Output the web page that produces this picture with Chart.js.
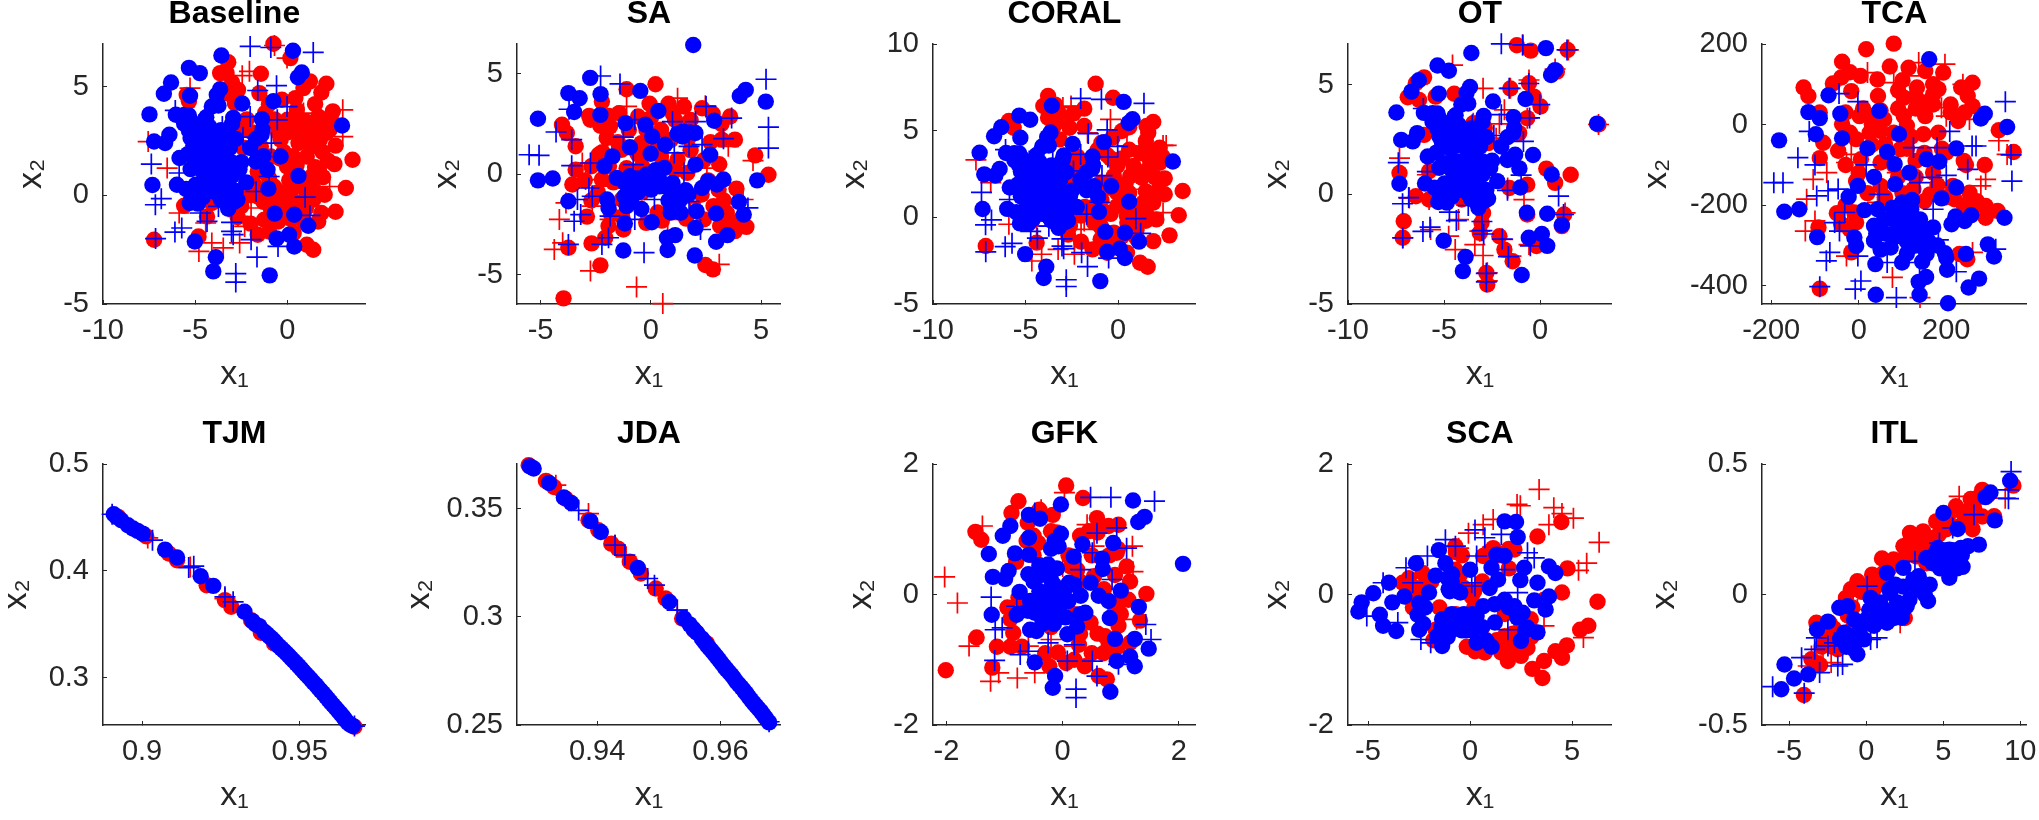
<!DOCTYPE html>
<html>
<head>
<meta charset="utf-8">
<title>Scatter panels</title>
<script src="https://cdn.jsdelivr.net/npm/chart.js@4"></script>
<style>
  html, body { margin: 0; padding: 0; background: #fff; }
  body { position: relative; width: 2039px; height: 820px; overflow: hidden; }
  canvas { position: absolute; }
</style>
</head>
<body>
<script>
// ── BLUE POINTS SHARED BY BASELINE, CORAL AND OT ───────────────
const targetBlueDots = [[-3.58,6.44],[0.30,6.66],[0.78,5.66],[0.57,5.44],[-5.34,5.87],[-4.75,5.63],[-6.31,5.20],[-6.70,4.68],[-5.28,4.59],[-3.65,4.89],[-3.83,4.63],[-4.10,4.09],[-3.74,4.14],[-2.45,4.23],[-0.76,4.34],[-7.48,3.73],[-6.05,3.71],[-5.34,3.68],[-5.6,3.7],[-2.94,3.57],[-1.38,3.51],[2.96,3.22],[-1.35,3.02],[-4.24,3.17],[-5.34,2.99],[-6.40,2.79],[-7.23,2.48],[-6.63,2.41],[-5.25,2.64],[-4.72,2.48],[-4.10,2.56],[-3.83,2.25],[-3.12,2.18],[-2.02,2.18],[-0.37,1.79],[-5.85,1.72],[-3.56,1.87],[-3.92,1.49],[-4.27,1.49],[-2.5,1.53],[-1.70,1.56],[-1.08,1.18],[-5.25,1.21],[0.60,0.90],[-7.32,0.48],[-5.99,0.49],[-4.98,0.49],[-4.36,0.49],[-3.92,0.87],[-3.74,0.49],[-2.23,0.60],[-1.03,0.31],[-3.74,0.03],[-5.30,-0.35],[-4.86,-0.38],[-2.71,-0.20],[-3.21,-0.61],[-0.69,-0.84],[0.37,-0.89],[1.13,-1.40],[0.09,-1.81],[-0.59,-1.98],[0.37,-2.35],[-5.02,-2.12],[-3.88,-2.85],[-4.02,-3.50],[-0.96,-3.68],[-3.5,1.2],[-3.8,2.0],[-4.5,1.5],[-3.0,1.5],[-4.5,1.0],[-3.5,0.8],[-3.9,1.1],[-4.7,2.1],[-4.2,0.6],[-3.2,0.5],[-3.2,2.7],[-4.6,3.0],[-5.1,2.3],[-5,3.2],[-4.4,2.9],[-3.6,3],[-5.4,1.9],[-4.9,1.4],[-4.6,1.1],[-4.1,0.2],[-4.6,-0.1],[-3.3,0.2],[-2.9,1.1],[-3.3,2.2],[-2.8,2.6],[-3.7,2.8],[-4.6,0.3],[-5.5,0.3],[-2.8,0.2],[-3.0,0.9],[-1.3,1.8],[-1.7,2.6],[-1.4,2.8],[-3.6,-0.2],[-2.9,-0.3],[-3.3,-0.4],[-5.2,-0.1],[-5.0,0.1],[-4.4,3.6],[-5.2,3.4],[-5.6,3.3],[-2.6,1.2],[-5,2.7],[-4.4,2.2],[-3.4,1.6],[-4.1,0.9],[-3.7,1.6],[-3,3.3]];
const targetBluePlus = [[-2.02,6.86],[-0.90,6.81],[1.40,6.58],[-0.59,5.05],[-1.61,4.83],[-0.02,4.09],[-6.08,3.91],[-0.55,3.48],[-4.8,3.25],[-3.53,3.17],[-2.02,3.63],[-2.41,2.68],[-0.87,2.41],[-5.16,1.79],[-7.38,1.44],[-5.87,1.03],[-0.99,0.87],[-3.03,0.95],[-1.70,0.18],[0.96,-0.08],[-6.84,-0.15],[-7.16,-0.43],[-4.72,-0.81],[1.22,-0.92],[-4.36,-1.20],[-3.03,-1.24],[-5.73,-1.50],[-6.10,-1.69],[-2.94,-1.81],[-1.97,-2.04],[-7.15,-1.99],[-0.51,-2.35],[-1.65,-2.84],[-2.80,-3.60],[-2.80,-3.99],[-3.74,-0.51],[-3.03,-1.66]];

// ── BASELINE ───────────────────────────────────────────────────
const baselineRedDots = [[-0.76,6.98],[0.16,6.32],[-3.21,6.13],[-3.30,5.63],[-3.65,5.63],[-1.44,5.60],[-5.46,4.63],[-5.34,4.33],[-2.68,4.86],[-1.52,4.71],[-2.85,4.25],[1.22,5.25],[0.87,4.94],[0.43,4.48],[2.11,5.14],[1.84,4.74],[2.46,3.87],[1.67,3.63],[2.02,3.48],[0,3.48],[-0.55,3.25],[0.51,3.10],[1.40,2.94],[2.29,3.02],[-2.77,2.94],[-0.37,2.56],[0.60,2.41],[1.31,2.25],[2.61,2.29],[3.53,1.64],[2.55,1.44],[-0.02,1.33],[-1.61,1.10],[0.34,1.03],[1.31,0.87],[1.93,0.84],[3.17,0.34],[2.02,0.03],[-0.73,0.41],[0.16,0.18],[-1.61,-0.05],[1.05,-0.05],[2.61,-0.75],[1.84,-0.81],[1.67,-1.20],[-1.26,-1.12],[-0.2,-0.81],[-4.10,-0.35],[-5.60,-0.48],[-4.36,-0.97],[-3.03,-0.35],[-1.61,-1.81],[-0.99,-1.66],[-4.82,-1.89],[-7.23,-2.04],[0.34,-1.73],[1.05,-2.27],[1.40,-2.50],[0.51,3.94],[-0.9,1.79],[-1.44,2.25],[1.76,2.56],[2.11,2.87],[1.05,1.79],[-0.82,-0.05],[-0.2,-0.35],[-0.5,2.9],[0,2.9],[0.5,3.5],[1,3.4],[1.5,3.3],[2.5,3.3],[-0.2,2],[0.3,1.8],[0.9,2.7],[1.9,2],[2.2,1.6],[0.5,1.4],[1.5,1.3],[0.1,0.7],[0.7,0.4],[1.4,0.3],[1.7,1.2],[-1,0.8],[-0.5,0.2],[0.4,-0.3],[1,-0.6],[1.4,-0.2],[-0.9,-0.6],[-1.3,-0.3],[-0.5,-1.2],[0.2,-1.1],[0.9,-1.2],[-2,0],[-2.5,-0.5],[-2.7,-1],[-2,-1.3],[-1.2,0.3],[-1.8,0.5],[-1.2,3.8],[-0.7,3.5],[-2.2,3.5],[-2.5,3],[-1,4.2],[-0.3,4.4],[1.5,4.2],[-3,5.2],[-3.3,4.7],[-0.4,1.7],[-1.9,2.9],[-2.4,2.2]];
const baselineRedPlus = [[-0.7,6.9],[-0.02,6.32],[-2.06,5.71],[-2.45,5.51],[-5.28,4.94],[3.0,3.94],[0.51,3.71],[0.87,3.79],[3.0,2.71],[-7.55,2.48],[-6.52,1.26],[1.84,1.49],[2.29,0.41],[-5.87,-0.81],[-4.43,-1.27],[-2.68,-0.97],[-1.97,-0.58],[-2.32,-1.43],[-4.10,-2.19],[-4.80,-2.58],[-3.48,-2.42],[-2.59,-2.19]];
const baselineXTicks = [-10, -5, 0];
const baselineYTicks = [-5, 0, 5];

// ── SA ─────────────────────────────────────────────────────────
const saBlueDots = [[1.92,6.42],[-2.75,4.79],[-2.28,3.98],[-0.48,4.14],[-3.74,4.03],[-3.23,3.78],[-3.48,3.09],[4.30,4.19],[4.03,3.89],[5.21,3.61],[0.34,3.14],[-2.29,2.95],[-5.12,2.76],[2.87,2.66],[-1.15,2.54],[-0.25,2.46],[0.06,1.88],[1.46,2.13],[1.77,2.08],[2.02,2.05],[1.43,1.88],[0.64,1.47],[-0.95,1.34],[-0.01,1.02],[2.69,0.97],[-1.74,0.89],[-2.11,0.40],[2.02,0.48],[0.61,0.31],[0.24,0.07],[-0.21,-0.02],[-0.95,-0.10],[-1.55,-0.18],[-5.12,-0.30],[-4.45,-0.21],[4.82,-0.30],[3.29,-0.26],[2.59,-0.35],[2.99,-0.51],[2.32,-0.68],[0.98,-0.43],[1.58,-0.79],[0.01,-0.76],[-0.58,-0.51],[-1.03,-0.84],[1.06,-1.09],[-1.99,-1.25],[-3.74,-1.34],[3.99,-1.37],[-1.92,-1.67],[-1.10,-1.58],[-0.43,-1.72],[0.91,-1.67],[1.35,-1.91],[2.07,-1.83],[4.21,-2.0],[2.96,-1.95],[0.04,-2.38],[-1.18,-2.44],[2.02,-2.66],[1.10,-3.02],[0.73,-3.15],[3.47,-3.02],[2.96,-3.35],[0.76,-3.76],[-1.25,-3.78],[1.99,-4.03],[0,-0.5],[0.4,-0.3],[0.7,-0.6],[1.1,-0.9],[1.3,-1.3],[0.8,-1.3],[0.4,-0.6],[-0.2,-0.4],[-0.6,-0.9],[-0.9,-0.6],[-1.2,-0.4],[-1.2,-1.1],[-0.9,-1.3],[0.2,0.2],[0.4,0.2],[0.9,-1.9],[1.7,-1],[1,-1.5],[-0.6,-0.2],[1.2,2]];
const saBluePlus = [[-2.28,4.88],[-1.40,4.49],[5.22,4.72],[-3.71,3.23],[2.5,3.37],[5.33,2.34],[5.33,1.30],[-4.30,2.10],[-3.59,1.72],[-5.52,0.97],[-5.07,0.94],[-3.59,0.43],[-2.74,0.56],[-0.73,2.71],[0.98,2.62],[2.02,2.62],[3.66,2.79],[3.29,1.77],[1.73,1.39],[2.32,1.47],[1.06,1.06],[-1.25,1.85],[-0.80,0.48],[1.50,0.07],[-2.81,-0.68],[-2.66,-1.09],[-3.33,-1.25],[-3.18,-2.0],[-3.48,-2.33],[-1.85,-2.08],[-0.73,-2.24],[-1.92,-3.15],[-2.22,-3.48],[-3.74,-3.48],[-0.31,-3.89],[2.25,-2.74],[1.73,-1.34],[0.16,-1.25],[4.40,-1.67]];
const saRedDots = [[0.21,4.47],[-1.10,4.22],[-2.22,3.61],[-0.06,3.5],[0.80,3.5],[1.50,3.37],[2.32,3.28],[-1.44,3.04],[-0.58,2.87],[-2.74,2.71],[-2.29,2.41],[-1.85,2.38],[-4.03,2.46],[-3.81,2.05],[-3.41,1.39],[3.59,2.87],[3.81,1.72],[3.21,1.72],[4.73,0.94],[5.33,-0.02],[3.88,-0.71],[-2.37,0.97],[-3.41,0.23],[-3.56,-0.51],[0.46,2.21],[-0.43,1.55],[1.21,0.73],[-1.32,1.22],[0.46,0.89],[1.65,0.07],[3.07,-0.76],[2.84,-1.58],[2.40,-2.24],[3.14,-2.57],[3.81,-2.82],[4.33,-2.61],[3.44,-1.91],[-0.21,-2.41],[-1.92,-2.57],[-1.25,-2.74],[-2.07,-3.15],[-2.69,-3.43],[-3.74,-3.65],[-2.29,-4.52],[2.47,-4.50],[2.81,-4.72],[-3.96,-6.16],[1.06,-1.58],[-1.32,-1.25],[-2.22,-0.26],[-2,1.8],[-1,2.2],[-0.2,2.2],[1.1,2.7],[1.8,2.7],[2.8,3],[3.2,2.5],[-0.6,1],[0.9,1.7],[1.8,1.2],[2.7,1.6],[3.1,0.5],[2.6,-0.3],[1.1,0.2],[0.2,1.2],[-1.1,0.3],[-1.9,0.4],[-2.7,0.4],[-3,-0.3],[-2.4,-0.9],[-1.7,-0.4],[-2.7,-1.3],[-0.4,-0.9],[0.5,-2.3],[1.6,-2.2],[1.3,-1],[2.3,-1],[3.3,-1.3],[0.3,-1.9],[-1.3,-2.1],[-1.8,-2],[-2.9,-2.1],[3.5,-2.4],[4.1,-2.2],[-0.4,0.4],[0.6,0.4],[1.7,1.8],[2.4,0.7],[-1.5,1.6],[-2.2,1.1],[0,2.8],[1,3],[-1.9,2.9],[-2.8,2.9]];
const saRedPlus = [[1.21,3.78],[2.47,3.40],[-1.10,3.37],[3.51,1.39],[4.63,0.68],[-3.11,0.56],[-3.85,-1.42],[-4.15,-2.24],[-4.0,-3.40],[-4.38,-3.73],[-2.74,-4.80],[-0.65,-5.59],[0.54,-6.42],[3.10,-4.47],[4.18,-1.25],[-1.85,-2.24],[-2.66,-1.58],[0.76,-2.24],[1.80,-1.42],[2.54,0.31],[-2.96,-0.26],[-2.22,-0.59],[-1.77,1.55]];
const saXTicks = [-5, 0, 5];
const saYTicks = [-5, 0, 5];

// ── CORAL ──────────────────────────────────────────────────────
const coralRedDots = [[-1.21,7.71],[-3.78,7.0],[-4.04,6.42],[-0.27,6.9],[-1.83,6.27],[-3.78,5.75],[-2.98,5.56],[-5.90,5.56],[-5.64,5.17],[-2.62,5.17],[-1.83,5.27],[-3.16,4.5],[1.90,5.5],[1.54,5.27],[0.21,4.98],[1.63,4.88],[2.25,4.02],[1.45,3.92],[1.90,3.54],[-0.05,2.96],[0.83,2.96],[1.72,2.96],[2.25,3.15],[-0.23,2.38],[0.66,2.38],[1.28,2.29],[2.52,2.25],[3.49,1.52],[2.52,1.33],[-0.94,2.0],[-0.05,1.42],[1.37,0.85],[1.90,0.85],[3.28,0.12],[2.07,-0.12],[-0.05,0.65],[0.48,0.08],[-0.59,0.27],[-1.47,0.56],[2.78,-1.04],[1.90,-1.37],[-0.94,-1.27],[-1.38,-1.85],[-7.15,-1.65],[-4.40,-1.46],[-3.07,0.27],[-4.66,-0.21],[1.19,-2.62],[1.60,-2.85],[0.48,-2.04],[-0.59,-2.04],[1.01,0.08],[-0.23,-0.88],[-0.94,-0.5],[-0.4,3.4],[0.2,3.4],[0.6,3.9],[1.2,3.7],[1.7,3.4],[2.4,3.5],[-0.1,2],[0.4,1.9],[1,2.7],[2,2.3],[2.2,1.6],[0.6,1.4],[1.5,1.5],[0.2,0.7],[0.8,0.5],[1.5,0.3],[1.7,1.1],[-0.9,1],[-0.4,0.2],[0.5,-0.3],[1,-0.7],[1.5,-0.2],[-0.9,-0.6],[-1.3,-0.3],[-0.5,-1.2],[0.2,-1.1],[1,-1.2],[-2,0.1],[-2.6,-0.5],[-2.7,-1],[-2,-1.4],[-1.2,0.4],[-1.8,0.6],[-1.1,3.9],[-0.6,3.6],[-2.2,3.5],[-2.5,3],[-0.9,4.3],[-0.3,4.6],[1.5,4.4],[-3.2,6],[-3.5,5.2],[-0.4,1.7],[-1.9,2.9],[-2.4,2.2],[-3.4,6.5],[-2.4,6],[0.6,5.2]];
const coralRedPlus = [[2.43,4.15],[2.6,4.15],[-7.68,3.31],[-6.88,2.0],[-0.41,5.65],[-2.54,6.42],[-2.98,6.33],[-1.65,4.88],[0.48,4.12],[1.54,1.62],[2.43,0.27],[-5.90,-0.40],[-4.40,-0.5],[-2.0,-0.69],[-2.36,-1.27],[-4.13,-2.13],[-4.66,-2.52],[-2.36,-2.13],[-3.24,-1.85],[-1.83,-0.21],[-2.89,0.27]];
const coralXTicks = [-10, -5, 0];
const coralYTicks = [-5, 0, 5, 10];

// ── OT ─────────────────────────────────────────────────────────
const otRedDots = [[-1.21,6.79],[-0.49,6.55],[1.43,6.58],[-6.04,5.33],[-6.47,5.06],[-6.89,4.42],[-6.30,4.30],[-5.44,4.45],[-4.47,4.58],[-1.55,4.82],[-0.58,5.06],[-0.32,4.45],[0.02,4.0],[-0.67,3.47],[-2.88,3.02],[-3.48,3.24],[-1.09,2.79],[-2.71,2.33],[-6.04,2.71],[0.32,1.17],[0.78,0.52],[1.59,0.89],[-7.32,0.97],[-0.67,0.44],[-1.60,0.29],[-6.47,-0.09],[-5.78,-0.24],[-4.08,-0.24],[-2.80,-0.24],[-2.97,-0.85],[-3.05,-1.3],[-3.14,-1.76],[-7.10,-1.23],[-7.15,-1.98],[-0.67,-0.92],[1.25,-0.92],[1.13,-1.45],[-2.12,-1.91],[-1.86,-2.52],[-1.43,-3.05],[-0.19,-2.36],[-2.80,-3.58],[-2.75,-4.11],[3.04,3.18],[0.87,5.59],[-5.78,1.05]];
const otRedPlus = [[-4.56,5.89],[-0.92,6.8],[1.47,6.58],[0.78,5.71],[-2.97,4.83],[-0.58,5.21],[-1.55,4.83],[-1.86,3.85],[-4.76,3.32],[-3.48,3.24],[-2.12,3.21],[-2.29,2.56],[-0.67,3.47],[-7.32,1.65],[-5.02,1.73],[-5.87,0.89],[-0.84,-0.24],[1.30,-0.85],[-1.69,0.29],[-5.78,-0.24],[-6.81,-0.17],[-5.70,-1.61],[-4.25,-1.15],[-4.76,-1.91],[-4.42,-2.52],[-3.40,-2.29],[-2.97,-2.79],[-3.14,-1.68],[-1.95,-2.06],[-1.52,-2.82],[-7.15,-1.98],[-2.75,-3.58],[-2.75,-3.95],[3.04,3.18],[-0.58,-2.29]];
const otXTicks = [-10, -5, 0];
const otYTicks = [-5, 0, 5];

// ── TCA ────────────────────────────────────────────────────────
const tcaBlueDots = [[161,162],[-69,73],[-115,31],[-89,16],[-42,27],[47,34],[288,27],[279,15],[339,-6],[-98,-24],[-182,-39],[-38,-34],[92,-24],[20,-59],[223,-59],[65,-68],[155,-86],[184,-92],[82,-98],[116,-119],[35,-130],[83,-148],[223,-156],[-2,-152],[-23,-179],[189,-183],[122,-187],[99,-193],[77,-206],[13,-212],[43,-210],[-170,-216],[-136,-210],[221,-228],[257,-225],[242,-239],[212,-247],[333,-231],[140,-235],[170,-255],[88,-251],[58,-235],[35,-251],[133,-276],[-95,-279],[-10,-280],[-6,-301],[35,-288],[73,-305],[148,-305],[155,-321],[197,-319],[245,-321],[295,-297],[309,-327],[38,-346],[99,-342],[202,-360],[154,-378],[137,-390],[275,-382],[251,-404],[39,-422],[139,-422],[204,-443],[100,-215],[120,-240],[100,-260],[60,-270],[110,-290],[130,-300],[160,-290],[150,-265],[80,-280],[40,-270],[50,-310],[90,-230],[120,-210],[180,-300],[200,-330],[130,-255],[110,-320],[145,-340]];
const tcaBluePlus = [[-45,77],[-2,57],[335,57],[-113,-17],[208,-17],[125,-57],[179,-57],[259,-53],[268,-53],[-139,-82],[348,-75],[-100,-100],[17,-100],[249,-111],[-194,-144],[-173,-144],[200,-126],[167,-131],[139,-144],[350,-140],[-47,-160],[-70,-164],[-96,-177],[47,-173],[170,-210],[-32,-218],[-55,-243],[-44,-264],[182,-286],[103,-293],[-66,-317],[-74,-338],[-2,-326],[65,-342],[139,-342],[223,-365],[5,-388],[-8,-408],[-89,-402],[86,-429],[313,-309]];
const tcaRedDots = [[80,201],[17,187],[-38,156],[71,144],[114,141],[4,121],[-40,117],[-59,102],[43,112],[152,133],[193,129],[-126,92],[-115,71],[-17,83],[44,71],[133,92],[182,88],[103,67],[148,55],[260,104],[234,92],[249,71],[260,46],[242,30],[227,9],[-89,30],[2,21],[28,21],[58,13],[103,21],[152,21],[-38,1],[50,-16],[110,-3],[148,-24],[182,-20],[320,-14],[354,-68],[-81,-45],[-6,-36],[-47,-65],[-89,-83],[95,-61],[5,-86],[50,-94],[245,-100],[288,-100],[200,-69],[170,-119],[-6,-140],[50,-152],[125,-160],[163,-173],[215,-152],[253,-169],[219,-185],[260,-210],[290,-202],[317,-214],[290,-231],[-10,-218],[-40,-247],[-6,-243],[-92,-255],[-17,-317],[230,-321],[248,-334],[-89,-407],[-30,30],[10,40],[50,35],[90,40],[130,40],[170,50],[210,50],[90,85],[130,70],[170,75],[30,0],[80,-20],[120,-30],[30,-50],[60,-50],[110,-60],[150,-70],[190,-60],[240,-90],[-30,-100],[0,-120],[90,-130],[130,-130],[180,-150],[100,-170],[60,-180],[20,-170],[-30,-200],[-50,-220],[-20,-260],[130,-90],[80,-100],[25,-20],[-20,-20],[100,110],[-20,130],[170,100],[210,30],[270,-190],[240,-200],[150,-190],[200,-180]];
const tcaRedPlus = [[137,154],[197,150],[20,129],[80,104],[114,121],[238,100],[189,42],[200,21],[253,13],[320,-40],[339,-74],[-28,-94],[-73,-119],[-104,-136],[-17,-74],[290,-136],[279,-152],[-119,-185],[-100,-239],[-122,-264],[-25,-235],[-28,-326],[77,-379],[140,-429],[260,-317],[43,-193],[88,-119]];
const tcaXTicks = [-200, 0, 200];
const tcaYTicks = [-400, -200, 0, 200];

// ── TJM ────────────────────────────────────────────────────────
const tjmBlueDots = [[.8910,.4530],[.8919,.4505],[.8934,.4474],[.8955,.4427],[.8971,.4396],[.8986,.4374],[.9002,.4349],[.9073,.4199],[.9111,.4125],[.9186,.3950],[.9226,.3860],[.9325,.3617],[.9350,.3530],[.9360,.3500],[.9372,.3483],[.9388,.3430],[.9396,.3410],[.9403,.3389],[.9411,.3370],[.9419,.3346],[.9426,.3322],[.9434,.3296],[.9442,.3275],[.9450,.3252],[.9458,.3230],[.9466,.3206],[.9473,.3183],[.9481,.3159],[.9489,.3135],[.9497,.3109],[.9505,.3083],[.9513,.3056],[.9520,.3033],[.9528,.3009],[.9536,.2983],[.9544,.2956],[.9552,.2932],[.9559,.2907],[.9567,.2880],[.9575,.2854],[.9583,.2826],[.9591,.2798],[.9598,.2772],[.9606,.2745],[.9614,.2719],[.9622,.2692],[.9630,.2664],[.9638,.2636],[.9645,.2608],[.9653,.2579],[.9661,.2560],[.9669,.2548]];
const tjmBluePlus = [[.9033,.4287],[.9148,.4031],[.9164,.4044],[.9263,.3757],[.9289,.3710],[.9674,.2548],[.8905,.4530]];
const tjmRedDots = [[.8924,.4505],[.9013,.4324],[.9085,.4162],[.9111,.4100],[.9205,.3866],[.9263,.3726],[.9283,.3664],[.9346,.3539],[.9377,.3421],[.9419,.3321],[.9674,.2542]];
const tjmRedPlus = [[.9018,.4308],[.9153,.4037],[.9263,.3741],[.9356,.3508]];
const tjmXTicks = [.9, .95];
const tjmYTicks = [.3, .4, .5];

// ── JDA ────────────────────────────────────────────────────────
const jdaBlueDots = [[.9291,.3695],[.9297,.3685],[.9322,.3618],[.9346,.3551],[.9358,.3526],[.9389,.3442],[.9406,.3392],[.9466,.3226],[.9517,.3069],[.9541,.2992],[.9550,.2965],[.9556,.2945],[.9562,.2926],[.9570,.2900],[.9574,.2885],[.9578,.2869],[.9582,.2856],[.9586,.2843],[.9590,.2829],[.9594,.2815],[.9598,.2800],[.9602,.2785],[.9606,.2771],[.9610,.2757],[.9614,.2744],[.9618,.2731],[.9622,.2716],[.9626,.2700],[.9630,.2687],[.9634,.2674],[.9638,.2660],[.9642,.2646],[.9646,.2630],[.9650,.2615],[.9654,.2601],[.9658,.2588],[.9662,.2575],[.9666,.2562],[.9670,.2546],[.9674,.2531],[.9679,.2512]];
const jdaBluePlus = [[.9370,.3492],[.9429,.3331],[.9445,.3285],[.9482,.3177],[.9493,.3146],[.9530,.3031],[.9679,.2515]];
const jdaRedDots = [[.9289,.3700],[.9317,.3628],[.9330,.3600],[.9349,.3546],[.9386,.3446],[.9402,.3400],[.9423,.3338],[.9434,.3315],[.9453,.3254],[.9471,.3200],[.9495,.3131],[.9511,.3085],[.9538,.2992],[.9557,.2938],[.9578,.2877]];
const jdaRedPlus = [[.9333,.3608],[.9386,.3477],[.9429,.3331],[.9447,.3277],[.9530,.3031]];
const jdaXTicks = [.94, .96];
const jdaYTicks = [.25, .3, .35];

// ── GFK ────────────────────────────────────────────────────────
const gfkBlueDots = [[-0.03,1.38],[1.21,1.44],[1.41,1.19],[1.30,1.11],[-0.58,1.22],[-0.39,1.16],[-0.90,1.05],[-1.03,0.90],[-0.58,0.87],[-0.03,0.93],[-0.14,0.82],[-0.07,0.74],[-0.2,0.70],[0.34,0.77],[0.87,0.79],[-1.27,0.62],[-0.82,0.63],[-0.58,0.61],[0.19,0.58],[0.68,0.55],[2.07,0.47],[-0.25,0.46],[0.69,0.39],[-0.93,0.36],[-1.2,0.27],[-0.99,0.24],[-0.59,0.31],[-0.42,0.28],[-0.2,0.23],[0.11,0.18],[0.48,0.18],[1.0,0.06],[-0.74,0.04],[-0.06,0.03],[0.31,-0.02],[0.62,-0.02],[0.79,-0.10],[-0.56,-0.10],[-0.2,-0.13],[1.31,-0.19],[-1.22,-0.31],[-0.79,-0.31],[-0.48,-0.28],[-0.08,-0.33],[0.39,-0.28],[0.81,-0.36],[-0.56,-0.54],[-0.45,-0.56],[0.25,-0.49],[0.08,-0.61],[0.90,-0.68],[1.24,-0.68],[1.48,-0.83],[1.16,-0.95],[0.93,-1.02],[1.24,-1.10],[-0.48,-1.04],[-0.13,-1.25],[-0.17,-1.43],[0.82,-1.49],[-0.4,0.05],[-0.4,-0.1],[-0.3,0.35],[-0.5,0.2],[-0.2,0.0],[-0.3,-0.3],[-0.1,0.4],[0.1,-0.1],[0.05,0.1],[-0.05,-0.2],[-0.35,-0.45],[-0.25,0.05],[-0.15,-0.45],[0.3,-0.3],[-0.4,0.45],[-0.6,-0.25],[-0.15,0.15],[-0.05,-0.05],[0.05,-0.35],[-0.3,-0.15],[0.2,0.15]];
const gfkBluePlus = [[0.48,1.49],[0.83,1.49],[1.58,1.43],[0.59,0.94],[0.93,1.02],[1.10,0.71],[-0.48,1.25],[-1.23,-0.04],[-0.79,-0.18],[-1.04,-0.51],[-1.16,-0.54],[1.43,-0.46],[1.52,-0.69],[-0.73,-0.92],[-0.25,-0.74],[0.2,-0.77],[-0.59,-0.87],[0.08,-1.02],[0.51,-1.02],[0.96,-1.07],[-1.17,-1.01],[0.59,-1.25],[0.23,-1.45],[0.23,-1.58],[0.51,0.64],[0.31,0.38],[0.85,0.23]];
const gfkRedDots = [[0.06,1.67],[0.35,1.48],[-0.76,1.43],[-0.88,1.25],[-0.17,1.22],[0.59,1.17],[0.96,1.07],[0.79,1.05],[-1.50,0.96],[-1.40,0.84],[-0.2,0.97],[0.45,0.97],[-0.62,0.82],[-0.42,0.79],[0.93,0.64],[1.10,0.43],[1.16,0.20],[1.44,0.01],[1.13,-0.08],[1.33,-0.40],[0.96,-0.48],[0.73,-0.64],[0.79,-0.74],[0.85,-0.87],[1.16,-0.74],[0.25,0.38],[0.14,0.43],[0.54,0.28],[0.71,0.08],[0.48,-0.43],[-0.90,-0.38],[-0.85,-0.59],[-1.48,-0.66],[-1.13,-0.80],[-1.21,-1.12],[-2.01,-1.16],[0.28,-0.77],[-0.08,-0.89],[-0.23,-1.10],[0.06,-1.05],[0.38,-1.10],[0.62,-1.25],[0.76,-1.30],[-0.76,-0.05],[-0.5,0.9],[0.1,0.6],[0.3,0.9],[0.9,0.3],[0.5,0.6],[0.8,0.6],[0.3,0.2],[0.9,-0.2],[0.6,-0.6],[0.3,-0.6],[0.5,-0.9],[-0.3,-0.9],[-0.7,-0.8],[-0.9,-0.8],[-0.6,-0.2],[-0.95,-0.2],[-0.5,0.6],[-0.8,0.5],[-0.2,-0.5],[0.2,-0.3],[0.95,0.7],[0.6,0.95],[0.2,-1],[-0.6,1.1],[-0.4,1.3],[1.0,-0.3],[0.7,-0.9],[0.95,-0.8],[1.0,-0.1],[-0.1,0.95]];
const gfkRedPlus = [[-1.38,1.05],[0.03,1.56],[-0.37,1.30],[0.42,1.07],[1.20,0.74],[-2.03,0.27],[-1.81,-0.13],[1.21,0.35],[0,0.43],[0.54,0.74],[1.27,-0.38],[-1.61,-0.79],[-0.59,-0.79],[-0.2,-0.69],[-0.48,-1.2],[-0.78,-1.28],[-1.1,-1.2],[-1.24,-1.33],[0.2,-0.79]];
const gfkXTicks = [-2, 0, 2];
const gfkYTicks = [-2, 0, 2];

// ── SCA ────────────────────────────────────────────────────────
const scaBlueDots = [[1.69,1.12],[2.25,1.11],[2.33,0.88],[-1.53,0.68],[1.29,0.61],[1.69,0.59],[-2.65,0.48],[-1.21,0.48],[0,0.38],[1.05,0.41],[2.65,0.41],[3.86,0.43],[4.18,0.33],[-1.69,0.29],[-0.88,0.31],[-3.97,0.18],[1.37,0.23],[2.46,0.22],[3.30,0.18],[0.96,0.10],[-1.05,0.08],[-0.48,0.03],[-2.01,0.03],[-4.74,0.02],[-3.22,-0.03],[-3.81,-0.12],[-5.31,-0.12],[-5.47,-0.26],[-2.49,-0.13],[3.14,-0.09],[3.86,-0.03],[3.70,-0.23],[1.69,-0.08],[0.64,-0.18],[2.17,-0.18],[2.57,-0.28],[-4.42,-0.31],[-2.57,-0.31],[0.32,-0.33],[-0.72,-0.33],[-1.37,-0.38],[1.21,-0.43],[-4.26,-0.48],[-0.08,-0.43],[2.81,-0.51],[3.30,-0.58],[-3.62,-0.56],[-2.49,-0.54],[-0.96,-0.56],[-1.61,-0.64],[2.49,-0.71],[0.80,-0.71],[0.32,-0.74],[1.05,-0.80],[-1.37,-0.79],[-0.6,-0.5],[-0.9,-0.3],[-0.2,-0.55],[0.1,-0.55],[0.6,-0.5],[-1,0.05],[-0.9,0.2],[-0.5,-0.4],[-0.6,0.05],[0.1,-0.3],[-0.3,-0.3],[-1.4,-0.5],[-1.1,-0.65],[-1,-0.4],[-0.4,-0.55],[-2.2,-0.2],[-2.3,-0.45],[-1.1,0.25],[1.2,-0.15],[1.9,-0.2],[2.3,-0.35],[2.7,-0.55]];
const scaBluePlus = [[0.24,0.99],[0.72,0.87],[1.53,0.92],[-1.21,0.84],[-0.72,0.74],[-2.09,0.59],[2.81,0.64],[3.14,0.56],[-3.14,0.41],[0.32,0.59],[-4.26,0.18],[-2.81,0.18],[0.08,0.18],[2.33,0.03],[1.69,0.38],[-5.06,-0.33],[-3.54,-0.43],[-2.41,-0.69],[-1.93,-0.74],[1.85,-0.54],[0.24,0.13]];
const scaRedDots = [[3.30,0.89],[4.47,1.11],[4.77,0.40],[4.50,0.03],[6.24,-0.11],[5.79,-0.48],[5.39,-0.54],[4.74,-0.78],[4.50,-0.97],[4.18,-0.87],[3.62,-1.02],[3.05,-1.14],[3.54,-1.28],[1.85,-1.02],[2.49,-0.94],[2.81,-0.82],[1.53,-0.89],[0.72,-0.89],[0.24,-0.87],[-0.16,-0.80],[2.01,-0.74],[1.69,-0.64],[-0.72,0.74],[1.13,0.71],[2.17,0.69],[0.64,0.59],[-3.30,0.18],[-2.33,0.33],[-2.97,-0.05],[-1.69,-0.54],[0.08,-0.03],[2.49,-0.43],[2.97,-0.38],[-0.72,0.38],[3.62,-0.08],[1.9,-0.85],[2.3,-0.8],[2.1,-0.6],[1.7,-0.3],[1.9,0.4],[1.4,0.6],[0.6,0.2],[-0.7,-0.3],[0.2,-0.2],[0.5,-0.5],[-1.9,0.2],[-2.7,0.1],[-2.2,0.1],[-1.8,-0.7],[-1.5,-0.2],[2.6,-0.6],[3,-0.65],[1.3,-0.7],[0.8,-0.7],[-0.7,0.65],[-0.4,0.6],[0.9,0.65],[1.9,0.7],[-2.4,0.1],[-3,0.25],[-2.8,-0.2],[0.2,0.05],[-0.3,0.1],[-0.5,0.3],[2.9,-0.5]];
const scaRedPlus = [[3.38,1.61],[2.30,1.38],[2.46,1.36],[4.10,1.33],[4.50,1.24],[3.86,1.07],[5.06,1.17],[6.32,0.80],[5.71,0.48],[5.31,0.37],[1.13,1.15],[0.64,1.07],[-0.08,0.94],[-0.56,0.71],[5.55,-0.66],[3.62,-0.48]];
const scaXTicks = [-5, 0, 5];
const scaYTicks = [-2, 0, 2];

// ── ITL ────────────────────────────────────────────────────────
const itlBlueDots = [[9.34,.436],[8.06,.391],[7.74,.373],[8.34,.284],[5.01,.312],[5.93,.251],[7.31,.191],[4.65,.178],[5.39,.172],[6.14,.178],[3.90,.140],[4.97,.140],[5.61,.134],[6.25,.106],[5.39,.064],[2.41,.102],[1.34,.083],[4.12,.038],[3.05,.057],[1.88,.038],[1.56,.006],[.28,-.013],[4.01,-.025],[2.62,-.045],[-1.75,-.051],[-1.22,-.045],[1.13,-.057],[2.30,-.089],[.60,-.083],[-.79,-.096],[-2.49,-.104],[-3.20,-.134],[1.34,-.108],[-1.43,-.146],[-.15,-.172],[-.58,-.229],[-1.22,-.197],[-5.31,-.268],[-3.77,-.306],[-4.69,-.322],[-5.52,-.363],[1.5,.02],[2.4,.03],[3.3,.02],[2.8,-.02],[3.6,.03],[3.8,-.0],[3.4,.07],[2,-.03],[1.5,-.07],[.9,-.03],[.2,-.06],[.8,-.1],[-.1,-.1],[-.4,-.13],[-.8,-.16],[-1.3,-.2],[-1.7,-.17],[-.8,-.21],[4.8,.1],[5.2,.1],[5.6,.17],[6.2,.15],[5.9,.1],[4.3,.12],[4.5,.16],[5.3,.12],[6.6,.185],[.5,-.12],[1.8,-.09],[2.4,-.06]];
const itlBluePlus = [[9.40,.471],[9.23,.401],[9.23,.367],[6.99,.306],[5.61,.255],[4.75,.197],[3.16,.127],[.06,.032],[.70,-.166],[.28,-.172],[-3.24,-.166],[-4.20,-.242],[-3.35,-.210],[-2.49,-.197],[-1.85,-.274],[-1.54,-.268],[-3.03,-.299],[-6.08,-.353],[-4.03,-.378],[-2.07,-.185]];
const itlRedDots = [[9.55,.417],[7.53,.401],[6.78,.366],[5.82,.338],[7.53,.299],[4.54,.280],[6.67,.274],[2.84,.236],[3.69,.242],[2.41,.185],[3.26,.197],[4.12,.217],[1.02,.138],[1.77,.134],[.38,.076],[-.58,.051],[-1.32,-.013],[1.13,.083],[-3.24,-.108],[-2.39,-.108],[-4.05,-.385],[-2.71,-.159],[-1.85,-.210],[-3.56,-.248],[3.26,.146],[6.67,.325],[2.8,.2],[3.5,.17],[3.9,.12],[2.2,.13],[2.6,.15],[1.5,.1],[.9,.04],[.5,.02],[.1,.03],[-.3,.01],[-.9,-.05],[-1,.02],[-1.6,-.05],[-2.1,-.13],[-2.9,-.13],[-2.2,-.2],[-2.9,-.2],[-3,-.27],[4.7,.23],[5.2,.25],[5.3,.3],[6,.26],[6.3,.31],[7,.33],[7.2,.37],[7.9,.38],[8.3,.3],[6.9,.25],[4.1,.16],[-1.2,-.08],[-.9,-.13],[-2.4,-.16],[2.5,-.09]];
const itlRedPlus = [[6.03,.376],[2.20,-.108],[-3.77,-.274],[-2.28,-.261],[-2.81,-.210],[9.02,.369],[-1,-.006],[-3.56,-.236],[-.58,-.057]];
const itlXTicks = [-5, 0, 5, 10];
const itlYTicks = [-.5, 0, .5];

// ── PANEL LAYOUT ───────────────────────────────────────────────
// left/right/top/bottom are the plot box in page pixels, gap is how far the y label sits from the axis
const FONT = "'Liberation Sans', Arial, sans-serif";
const INK = '#262626';
const RED = '#ff0000';
const BLUE = '#0000ff';

const panels = [
  { title: 'Baseline', left: 103, right: 370, top: 44, bottom: 304, gap: 71, xMin: -10, xMax: 4.25, yMin: -5, yMax: 6.97, xTicks: baselineXTicks, yTicks: baselineYTicks, redDots: baselineRedDots, redPlus: baselineRedPlus, blueDots: targetBlueDots, bluePlus: targetBluePlus },
  { title: 'SA', left: 517, right: 785, top: 44, bottom: 304, gap: 70, xMin: -6.07, xMax: 5.89, yMin: -6.44, yMax: 6.47, xTicks: saXTicks, yTicks: saYTicks, redDots: saRedDots, redPlus: saRedPlus, blueDots: saBlueDots, bluePlus: saBluePlus },
  { title: 'CORAL', left: 933, right: 1200, top: 44, bottom: 304, gap: 78, xMin: -10, xMax: 4.2, yMin: -5, yMax: 10, xTicks: coralXTicks, yTicks: coralYTicks, redDots: coralRedDots, redPlus: coralRedPlus, blueDots: targetBlueDots, bluePlus: targetBluePlus },
  { title: 'OT', left: 1348, right: 1616, top: 44, bottom: 304, gap: 71, xMin: -10, xMax: 3.73, yMin: -5, yMax: 6.85, xTicks: otXTicks, yTicks: otYTicks, redDots: otRedDots, redPlus: otRedPlus, blueDots: targetBlueDots, bluePlus: targetBluePlus },
  { title: 'TCA', left: 1762, right: 2031, top: 44, bottom: 304, gap: 105, xMin: -221, xMax: 384, yMin: -445, yMax: 200, xTicks: tcaXTicks, yTicks: tcaYTicks, redDots: tcaRedDots, redPlus: tcaRedPlus, blueDots: tcaBlueDots, bluePlus: tcaBluePlus },
  { title: 'TJM', left: 103, right: 370, top: 464, bottom: 725, gap: 86, xMin: .8876, xMax: .971, yMin: .2558, yMax: .5, xTicks: tjmXTicks, yTicks: tjmYTicks, redDots: tjmRedDots, redPlus: tjmRedPlus, blueDots: tjmBlueDots, bluePlus: tjmBluePlus },
  { title: 'JDA', left: 517, right: 785, top: 464, bottom: 725, gap: 97, xMin: .927, xMax: .9698, yMin: .25, yMax: .3706, xTicks: jdaXTicks, yTicks: jdaYTicks, redDots: jdaRedDots, redPlus: jdaRedPlus, blueDots: jdaBlueDots, bluePlus: jdaBluePlus },
  { title: 'GFK', left: 933, right: 1200, top: 464, bottom: 725, gap: 71, xMin: -2.23, xMax: 2.29, yMin: -2, yMax: 2, xTicks: gfkXTicks, yTicks: gfkYTicks, redDots: gfkRedDots, redPlus: gfkRedPlus, blueDots: gfkBlueDots, bluePlus: gfkBluePlus },
  { title: 'SCA', left: 1348, right: 1616, top: 464, bottom: 725, gap: 71, xMin: -5.98, xMax: 6.94, yMin: -2, yMax: 2, xTicks: scaXTicks, yTicks: scaYTicks, redDots: scaRedDots, redPlus: scaRedPlus, blueDots: scaBlueDots, bluePlus: scaBluePlus },
  { title: 'ITL', left: 1762, right: 2031, top: 464, bottom: 725, gap: 97, xMin: -6.77, xMax: 10.42, yMin: -.5, yMax: .5, xTicks: itlXTicks, yTicks: itlYTicks, redDots: itlRedDots, redPlus: itlRedPlus, blueDots: itlBlueDots, bluePlus: itlBluePlus },
];

const toPoints = pairs => pairs.map(p => ({ x: p[0], y: p[1] }));

function dotSet(pairs, color) {
  return {
    data: toPoints(pairs), pointStyle: 'circle', pointRadius: 8.2,
    pointBackgroundColor: color, pointBorderWidth: 0, clip: false,
  };
}

function plusSet(pairs, color) {
  return {
    data: toPoints(pairs), pointStyle: 'cross', pointRadius: 10.5,
    pointBorderColor: color, pointBorderWidth: 1.7, clip: false,
  };
}

function axis(min, max, ticks, label, fitFn, tickPadding, titlePadding) {
  return {
    type: 'linear', min, max,
    afterBuildTicks: s => { s.ticks = ticks.map(v => ({ value: v })); },
    afterFit: fitFn,
    border: { color: INK, width: 1.5 },
    grid: { drawOnChartArea: false, color: INK, lineWidth: 1, tickLength: -4 },
    ticks: {
      color: INK, padding: tickPadding, autoSkip: false, maxRotation: 0,
      font: { family: FONT, size: 29 },
      callback: v => String(v),
    },
    title: {
      display: true, text: label, color: INK, padding: titlePadding,
      font: { family: FONT, size: 34, lineHeight: 1 },
    },
  };
}

// ── DRAW ALL PANELS ────────────────────────────────────────────
panels.forEach(p => {
  const yWidth = p.gap + 17;
  const xHeight = p.top < 100 ? 100 : 95;
  const canvas = document.createElement('canvas');
  canvas.width = yWidth + (p.right - p.left) + 8;
  canvas.height = 44 + (p.bottom - p.top) + xHeight;
  canvas.style.left = (p.left - yWidth) + 'px';
  canvas.style.top = (p.top - 44) + 'px';
  canvas.setAttribute('aria-label', p.title);
  document.body.appendChild(canvas);

  new Chart(canvas.getContext('2d'), {
    type: 'scatter',
    data: {
      // first dataset ends up on top in Chart.js
      datasets: [
        dotSet(p.blueDots, BLUE),
        plusSet(p.bluePlus, BLUE),
        plusSet(p.redPlus, RED),
        dotSet(p.redDots, RED),
      ],
    },
    options: {
      responsive: false,
      animation: false,
      layout: { padding: { left: 0, right: 8, top: 0, bottom: 0 } },
      plugins: {
        legend: { display: false },
        tooltip: { enabled: false },
        title: {
          display: true, text: p.title, color: '#000', fullSize: false,
          padding: { top: -2, bottom: 14 },
          font: { family: FONT, size: 32, weight: 'bold', lineHeight: 1 },
        },
      },
      scales: {
        x: axis(p.xMin, p.xMax, p.xTicks, 'x\u2081',
          s => { s.height = xHeight; s.paddingLeft = 0; s.paddingRight = 0; }, 14, { top: 0, bottom: p.top < 100 ? 12 : 7 }),
        y: axis(p.yMin, p.yMax, p.yTicks, 'x\u2082',
          s => { s.width = yWidth; s.paddingTop = 0; s.paddingBottom = 0; }, 18, { top: 0, bottom: 0 }),
      },
    },
  });
});
</script>
</body>
</html>
